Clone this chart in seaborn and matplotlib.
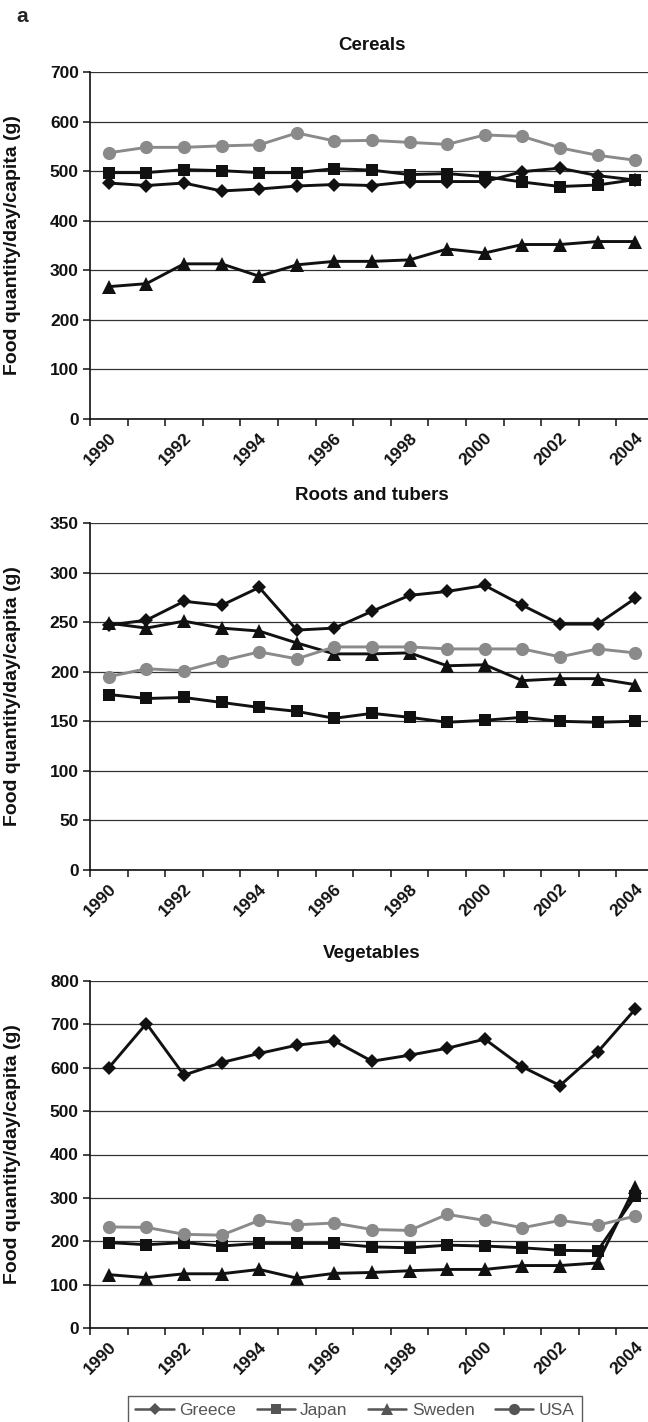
import numpy as np
import pandas as pd
import matplotlib
matplotlib.use("Agg")
import matplotlib.pyplot as plt
import matplotlib.transforms as mtransforms
from matplotlib.lines import Line2D
import seaborn as sns

# anos e países
years = list(range(1990, 2005))
countries = ["Greece", "Japan", "Sweden", "USA"]

# Cereals (g/dia/per capita)
cereals_greece = [476, 471, 476, 460, 464, 470, 473, 471, 479, 479, 479, 499, 506, 491, 482]
cereals_japan = [497, 497, 503, 501, 497, 497, 505, 502, 493, 495, 489, 478, 469, 472, 483]
cereals_sweden = [267, 273, 313, 313, 288, 311, 318, 318, 321, 343, 335, 352, 352, 358, 358]
cereals_usa = [537, 548, 548, 551, 553, 577, 561, 562, 558, 554, 573, 570, 547, 532, 522]

# Roots and tubers
roots_greece = [247, 252, 271, 267, 285, 242, 244, 261, 277, 281, 287, 267, 248, 248, 274]
roots_japan = [177, 173, 174, 169, 164, 160, 153, 158, 154, 149, 151, 154, 150, 149, 150]
roots_sweden = [249, 244, 251, 244, 241, 229, 218, 218, 219, 206, 207, 191, 193, 193, 187]
roots_usa = [195, 203, 201, 211, 220, 213, 225, 225, 225, 223, 223, 223, 215, 223, 219]

# Vegetables
veg_greece = [600, 702, 583, 612, 633, 652, 662, 615, 629, 645, 666, 602, 559, 636, 735]
veg_japan = [197, 192, 197, 189, 195, 195, 195, 187, 185, 191, 189, 185, 179, 178, 304]
veg_sweden = [123, 116, 125, 125, 135, 115, 126, 128, 132, 135, 135, 144, 144, 150, 326]
veg_usa = [233, 232, 216, 214, 248, 238, 242, 227, 225, 262, 248, 231, 248, 237, 258]

panels = [
    ("Cereals", [cereals_greece, cereals_japan, cereals_sweden, cereals_usa], 700, 100),
    ("Roots and tubers", [roots_greece, roots_japan, roots_sweden, roots_usa], 350, 50),
    ("Vegetables", [veg_greece, veg_japan, veg_sweden, veg_usa], 800, 100),
]

sns.set_theme(style="white")
plt.rcParams["font.family"] = ["Liberation Sans", "DejaVu Sans"]

palette = {"Greece": "#111111", "Japan": "#111111", "Sweden": "#111111", "USA": "#8a8a8a"}
markers = {"Greece": "D", "Japan": "s", "Sweden": "^", "USA": "o"}
msize = {"Greece": 7, "Japan": 9, "Sweden": 9.5, "USA": 9.5}

W, H = 648, 1422
fig = plt.figure(figsize=(W / 100, H / 100), dpi=100)

# posições dos eixos em pixels (topo, base)
boxes = [(72, 419), (523, 870), (981, 1328)]
left_px, width_px = 90, 564

for (title, series, ymax, step), (top, bot) in zip(panels, boxes):
    ax = fig.add_axes([left_px / W, 1 - bot / H, width_px / W, (bot - top) / H])
    df = pd.DataFrame({
        "year": np.tile(years, len(countries)),
        "country": np.repeat(countries, len(years)),
        "value": np.concatenate(series),
    })
    for c in countries:
        sns.lineplot(data=df[df.country == c], x="year", y="value", color=palette[c],
                     marker=markers[c], markersize=msize[c], markeredgewidth=0,
                     linewidth=2.1, ax=ax, legend=False)
    ax.set_xlim(1989.5, 2004.5)
    ax.set_ylim(0, ymax)
    ax.set_yticks(np.arange(0, ymax + 1, step))
    ax.grid(True, axis="y", color="#333333", linewidth=0.9)
    ax.set_axisbelow(True)
    for s in ["top", "right"]:
        ax.spines[s].set_visible(False)
    for s in ["left", "bottom"]:
        ax.spines[s].set_color("#111111")
        ax.spines[s].set_linewidth(1.2)
    # ticks nas fronteiras das categorias, rótulos nos anos pares
    ax.set_xticks(np.arange(1989.5, 2005, 1))
    ax.set_xticklabels([])
    ax.set_xticks(years[::2], minor=True)
    ax.set_xticklabels([str(y) for y in years[::2]], minor=True)
    ax.tick_params(axis="x", which="major", direction="out", length=5, width=1.1, color="#111111", bottom=True)
    ax.tick_params(axis="x", which="minor", length=0, pad=12, labelsize=12.5)
    ax.tick_params(axis="y", direction="out", length=5, width=1.1, color="#111111", left=True, pad=3, labelsize=12.5)
    offset = mtransforms.ScaledTranslation(5 / 100, 0, fig.dpi_scale_trans)
    for lab in ax.get_xticklabels(minor=True):
        lab.set_rotation(45)
        lab.set_ha("right")
        lab.set_va("center")
        lab.set_rotation_mode("anchor")
        lab.set_fontweight("bold")
        lab.set_color("#111111")
        lab.set_transform(lab.get_transform() + offset)
    for lab in ax.get_yticklabels():
        lab.set_fontweight("bold")
        lab.set_color("#111111")
    ax.set_xlabel("")
    ax.set_ylabel("Food quantity/day/capita (g)", fontsize=14, fontweight="bold", color="#111111")
    ax.yaxis.set_label_coords((21 - left_px) / width_px, 0.5)
    ax.text(0.5, 1 + 27 / (bot - top), title, transform=ax.transAxes, ha="center",
            va="center", fontsize=13.5, fontweight="bold", color="#111111")

fig.text(22 / W, 1 - 17 / H, "a", ha="center", va="center", fontsize=15, fontweight="bold")

# legenda
handles = [Line2D([], [], color="#555555", marker=markers[c], markersize=msize[c] * 0.85,
                  markeredgewidth=0, linewidth=1.8) for c in countries]
leg = fig.legend(handles, countries, loc="upper center", ncol=4,
                 bbox_to_anchor=(355 / W, 1 - 1387 / H), frameon=True, fancybox=False,
                 fontsize=12.5, handlelength=2.2, handletextpad=0.3, columnspacing=1.2,
                 borderpad=0.4, labelcolor="#555555")
leg.get_frame().set_edgecolor("#333333")
leg.get_frame().set_linewidth(1.0)

fig.savefig("out.png", dpi=100)
